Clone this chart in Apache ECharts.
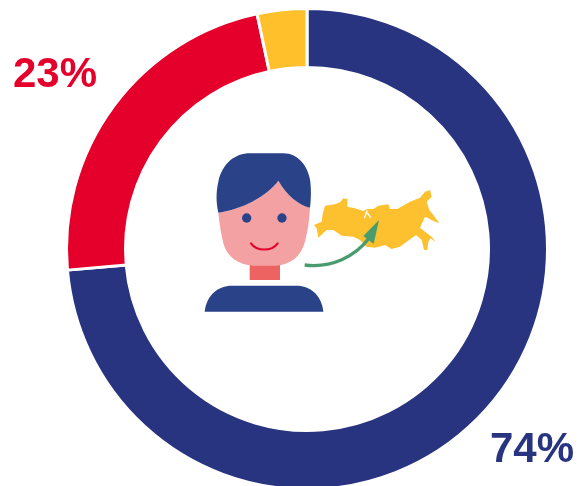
<!DOCTYPE html>
<html>
<head>
<meta charset="utf-8">
<title>chart</title>
<style>
html, body { margin: 0; padding: 0; background: #fff; }
#main { width: 580px; height: 486px; }
</style>
<script src="https://cdn.jsdelivr.net/npm/echarts@6/dist/echarts.min.js"></script>
</head>
<body>
<div id="main"></div>
<script>
var names = ['a', 'b', 'c'];
var values = [73.6, 23.07, 3.33];
var colors = ['#28347f', '#e4002b', '#ffc02c'];

// icon paths, written in the coordinates of a 3x crop starting at (195,140)
var hair = 'M70 218 C64 190 62 160 70 125 C82 70 120 40 165 40 L265 40 C310 40 340 80 346 125 C349 150 348 180 345 203 C310 195 275 165 250 122 C215 170 140 208 70 218 Z';
var face = 'M70 218 C140 208 215 170 250 122 C275 165 310 195 345 203 C343 240 338 275 330 305 C318 350 285 375 240 377 L175 377 C130 375 95 350 85 310 C78 280 73 250 70 218 Z';
var neck = 'M164 375 L255 375 L255 420 L164 420 Z';
var body = 'M29 515 C34 465 70 437 110 437 L305 437 C345 437 380 465 385 515 Z';
var smile = 'M168 310 C185 335 230 335 248 310';
var arrowLine = 'M329 375 C410 385 480 350 522 295';
var arrowHead = 'M552 240 L505 288 L536 312 Z';
// these two from a 3x crop starting at (310,185)
var russia = 'M12 120 L35 110 L38 88 L45 62 L75 58 L90 52 L100 40 L112 42 L112 65 L135 70 L160 78 L172 72 L190 72 L205 62 L235 58 L240 72 L262 72 L300 50 L330 38 L345 20 L360 15 L365 35 L350 50 L358 75 L370 90 L388 115 L370 108 L355 100 L345 95 L330 128 L345 140 L365 155 L378 172 L362 160 L355 170 L352 195 L342 195 L335 165 L318 150 L290 170 L270 185 L245 192 L225 180 L195 188 L170 185 L150 165 L130 155 L95 152 L70 135 L50 135 L25 158 L20 130 Z';
var bay = 'M172 76 L163 100 M172 84 L182 98';

// the graphic component has no plain path type, so each one is registered as a shape
var iconPaths = {
    iconRussia: russia,
    iconBay: bay,
    iconNeck: neck,
    iconBody: body,
    iconFace: face,
    iconHair: hair,
    iconSmile: smile,
    iconArrowLine: arrowLine,
    iconArrowHead: arrowHead
};
Object.keys(iconPaths).forEach(function (key) {
    echarts.graphic.registerShape(key, echarts.graphic.extendPath(iconPaths[key], {}));
});

var myChart = echarts.init(document.getElementById('main'));

var seriesData = [];
values.forEach(function (item, index) {
    seriesData.push({
        value: item,
        name: names[index],
        itemStyle: { color: colors[index] }
    });
});

var option = {
    backgroundColor: '#fff',
    animation: false,
    tooltip: { show: false },
    legend: { show: false },
    graphic: [
        {
            type: 'group',
            x: 310,
            y: 185,
            scaleX: 1 / 3,
            scaleY: 1 / 3,
            z: 10,
            children: [
                { type: 'iconRussia', style: { fill: '#fdc02f' } },
                { type: 'iconBay', style: { fill: 'none', stroke: '#fff', lineWidth: 4 } }
            ]
        },
        {
            type: 'group',
            x: 195,
            y: 140,
            scaleX: 1 / 3,
            scaleY: 1 / 3,
            z: 11,
            children: [
                { type: 'iconNeck', style: { fill: '#ec6361' } },
                { type: 'iconBody', style: { fill: '#2a4388' } },
                { type: 'iconFace', style: { fill: '#f4a1a4' } },
                { type: 'iconHair', style: { fill: '#2a4388' } },
                { type: 'circle', shape: { cx: 155, cy: 234, r: 14 }, style: { fill: '#2a4388' } },
                { type: 'circle', shape: { cx: 261, cy: 234, r: 14 }, style: { fill: '#2a4388' } },
                { type: 'iconSmile', style: { fill: 'none', stroke: '#e4002b', lineWidth: 6, lineCap: 'round' } },
                { type: 'iconArrowLine', style: { fill: 'none', stroke: '#4a9c6e', lineWidth: 10 } },
                { type: 'iconArrowHead', style: { fill: '#4a9c6e' } }
            ]
        },
        {
            type: 'text',
            x: 13,
            y: 54,
            z: 10,
            style: { text: Math.round(values[1]) + '%', fill: colors[1], font: 'bold 42px "Liberation Sans", Arial, sans-serif' }
        },
        {
            type: 'text',
            x: 490,
            y: 429,
            z: 10,
            style: { text: Math.round(values[0]) + '%', fill: colors[0], font: 'bold 42px "Liberation Sans", Arial, sans-serif' }
        }
    ],
    series: [{
        type: 'pie',
        center: [307, 249],
        radius: [181.5, 240.5],
        startAngle: 90,
        clockwise: true,
        silent: true,
        label: { show: false },
        labelLine: { show: false },
        itemStyle: { borderColor: '#fff', borderWidth: 3 },
        data: seriesData
    }]
};
myChart.setOption(option);
</script>
</body>
</html>
